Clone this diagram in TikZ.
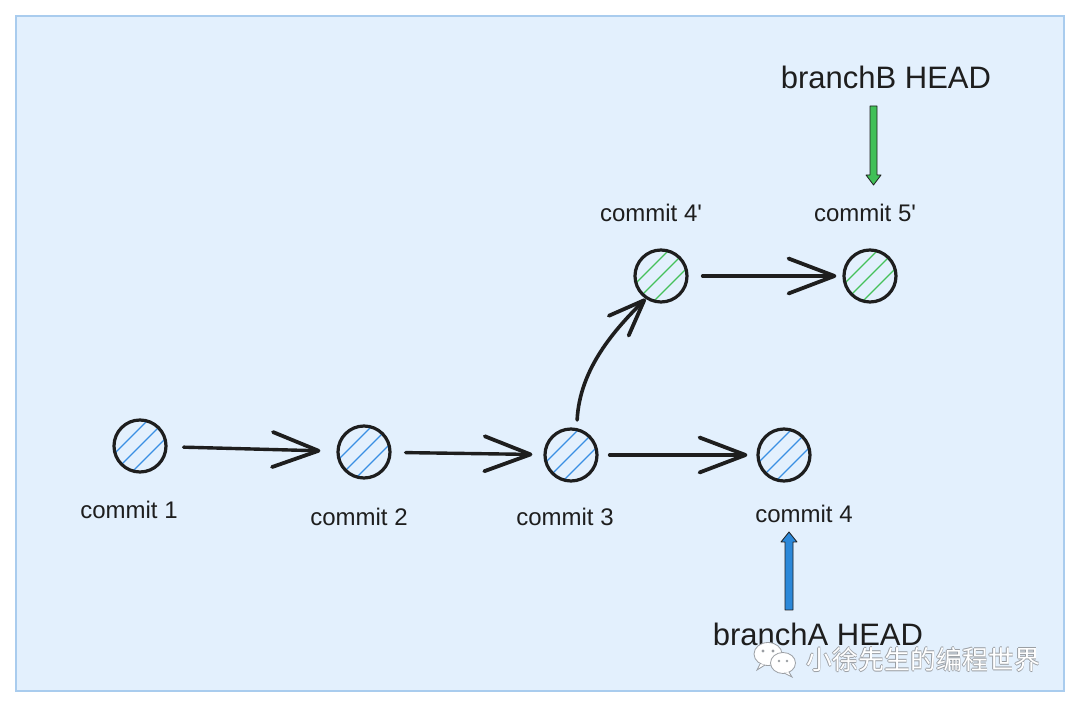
\documentclass[tikz,border=0pt]{standalone}
\usepackage{fontspec}
\setmainfont{Liberation Sans}
\newfontfamily\cjkfont{Noto Sans CJK SC}
\usetikzlibrary{arrows.meta}
\definecolor{bgfill}{HTML}{E3F0FD}
\definecolor{frameblue}{HTML}{A9CCEE}
\definecolor{ink}{HTML}{1E1E1E}
\definecolor{hatchblue}{HTML}{3A8FE3}
\definecolor{hatchgreen}{HTML}{45C15A}
\definecolor{arrowgreen}{HTML}{40C057}
\definecolor{arrowblue}{HTML}{2B88D9}
\definecolor{wmgray}{HTML}{9A9EA3}
\newcommand{\wmtxt}{小徐先生的编程世界}
\newcommand{\outlinedwm}{%
  \makebox[0pt][l]{\color{wmgray}\hspace{0.9pt}\wmtxt}%
  \makebox[0pt][l]{\color{wmgray}\hspace{-0.9pt}\wmtxt}%
  \makebox[0pt][l]{\color{wmgray}\raisebox{0.9pt}{\wmtxt}}%
  \makebox[0pt][l]{\color{wmgray}\raisebox{-0.9pt}{\wmtxt}}%
  {\color{white}\wmtxt}}
\begin{document}
\begin{tikzpicture}[x=1pt,y=1pt,
  commit/.style={circle, draw=ink, fill=bgfill, line width=3.2pt, minimum size=52pt, inner sep=0pt,
    path picture={\foreach \o in {-9,0,9}{\draw[#1, line width=1.3pt]
      ([shift={(\o-30,-\o-30)}]path picture bounding box.center) --
      ([shift={(\o+30,-\o+30)}]path picture bounding box.center);}}},
  clabel/.style={font=\fontsize{24}{28}\selectfont, text=ink, inner sep=0pt},
  blabel/.style={font=\fontsize{31}{36}\selectfont, text=ink, inner sep=0pt},
  flow/.style={draw=ink, line width=3.4pt, line cap=round,
    -{Straight Barb[length=46pt,width=35pt,line width=3.8pt,round]}},
  bflow/.style={draw=ink, line width=3.6pt, line cap=round,
    -{Straight Barb[length=36pt,width=28pt,line width=3.8pt,round]}},
  headarrow/.style={draw=ink, line width=0.8pt, line join=round},
  wm/.style={font=\cjkfont\fontsize{26}{30}\selectfont, inner sep=0pt}
]
% canvas and frame
\path[fill=white] (0,0) rectangle (1080,707);
\useasboundingbox (0,0) rectangle (1080,707);
\draw[fill=bgfill, draw=frameblue, line width=2.5pt] (16,16) rectangle (1064,691);

% commits
\node[commit=hatchblue] (c1) at (140,261) {};
\node[commit=hatchblue] (c2) at (364,255) {};
\node[commit=hatchblue] (c3) at (571,252) {};
\node[commit=hatchblue] (c4) at (784,252) {};
\node[commit=hatchgreen] (c4p) at (661,431) {};
\node[commit=hatchgreen] (c5p) at (870,431) {};

% labels
\node[clabel] (l1) at (129,197) {commit 1};
\node[clabel] (l2) at (359,190) {commit 2};
\node[clabel] (l3) at (565,190) {commit 3};
\node[clabel] (l4) at (804,193) {commit 4};
\node[clabel] (l4p) at (651,494) {commit 4\textquotesingle};
\node[clabel] (l5p) at (865,494) {commit 5\textquotesingle};
\node[blabel] (bB) at (886,630) {branchB HEAD};
\node[blabel] (bA) at (818,73) {branchA HEAD};

% connectors
\draw[flow, shorten <=16pt, shorten >=16pt] (c1) -- (c2);
\draw[flow, shorten <=14pt, shorten >=11pt] (c2) -- (c3);
\draw[flow, shorten <=11pt, shorten >=9pt] (c3) -- (c4);
\draw[flow, shorten <=14pt, shorten >=6pt] (c4p) -- (c5p);
\draw[bflow, shorten <=8pt] (c3.78) .. controls +(3,60) and +(-30,-30) .. (c4p.236);

% branch pointers
\coordinate (gTop) at (873.5,601);
\coordinate (gTip) at (873.5,522);
\draw[headarrow, fill=arrowgreen]
  ([xshift=-3.5pt]gTop) -- ([shift={(-3.5,10)}]gTip) -- ([shift={(-7.5,10)}]gTip) -- (gTip)
  -- ([shift={(7.5,10)}]gTip) -- ([shift={(3.5,10)}]gTip) -- ([xshift=3.5pt]gTop) -- cycle;
\coordinate (aBot) at (789,97);
\coordinate (aTip) at (789,175);
\draw[headarrow, fill=arrowblue]
  ([xshift=-4pt]aBot) -- ([shift={(-4,-10)}]aTip) -- ([shift={(-8,-10)}]aTip) -- (aTip)
  -- ([shift={(8,-10)}]aTip) -- ([shift={(4,-10)}]aTip) -- ([xshift=4pt]aBot) -- cycle;

% watermark
\draw[fill=white, draw=wmgray, line width=0.8pt] (768,53) ellipse [x radius=14, y radius=11.5];
\draw[fill=white, draw=wmgray, line width=0.8pt] (760,43) -- (757,37) -- (765,42);
\fill[wmgray] (763,56) circle (1.6) (773,56) circle (1.6);
\draw[fill=white, draw=wmgray, line width=0.8pt] (783,44) ellipse [x radius=12.5, y radius=10.5];
\draw[fill=white, draw=wmgray, line width=0.8pt] (789,35) -- (792,30) -- (784,34);
\fill[wmgray] (779,46) circle (1.4) (787,46) circle (1.4);
\node[wm] (wmtext) at (923,47) {\outlinedwm};
\end{tikzpicture}
\end{document}
